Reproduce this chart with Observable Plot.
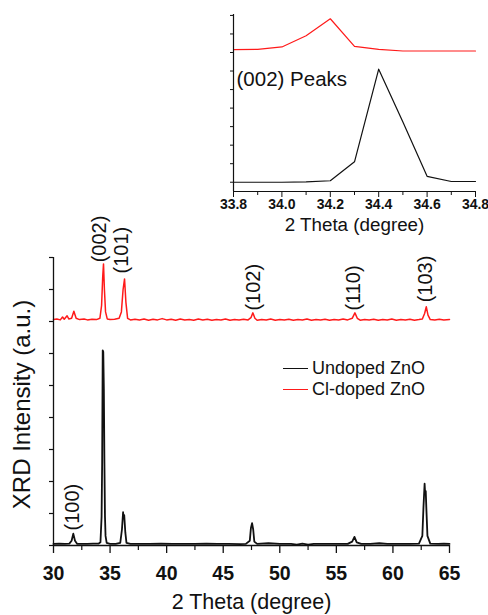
<!DOCTYPE html>
<html><head><meta charset="utf-8">
<script src="https://cdn.jsdelivr.net/npm/d3@7"></script>
<script src="https://cdn.jsdelivr.net/npm/@observablehq/plot@0.6"></script>
<style>
body{margin:0;background:#fff;font-family:"Liberation Sans",Arial,sans-serif;}
#wrap{position:relative;width:488px;height:615px;overflow:hidden;background:#fff;}
#wrap svg{position:absolute;left:0;top:0;}
.leg{position:absolute;left:283px;height:20px;font-size:18px;line-height:20px;color:#111;display:flex;align-items:center;white-space:nowrap;}
.leg .sw{display:inline-block;width:25px;height:0;border-top:1.5px solid;margin-right:4px;}
</style></head><body><div id="wrap"></div>
<script>
const seriesNames = ["Undoped ZnO", "Cl-doped ZnO"];
const seriesColors = ["#111111", "#ff1a1a"];

const undopedX = [30.0,30.5,31.0,31.4,31.6,31.75,31.9,32.1,32.5,33.0,33.5,34.0,34.15,34.25,34.3,34.35,34.4,34.45,34.5,34.55,34.6,34.7,35.0,35.5,35.9,36.05,36.15,36.2,36.25,36.35,36.45,36.8,37.5,38.5,39.5,40.5,41.5,42.5,43.5,44.5,45.5,46.5,47.0,47.35,47.45,47.55,47.65,47.75,48.0,49.0,50.0,51.0,51.5,52.0,52.5,53.0,54.0,55.0,56.0,56.4,56.6,56.8,57.2,58.0,58.8,59.5,60.5,61.5,62.3,62.6,62.7,62.8,62.85,62.9,62.95,63.05,63.3,64.0,64.5,65.0];
const undopedY = [0.05,0.06,0.05,0.06,0.15,0.37,0.15,0.05,0.05,0.05,0.06,0.06,0.1,0.9,2.6,6.1,6.05,4.9,2.6,0.9,0.3,0.08,0.05,0.05,0.08,0.5,1.04,0.85,0.95,0.4,0.08,0.05,0.05,0.05,0.06,0.05,0.05,0.05,0.06,0.05,0.05,0.04,0.05,0.15,0.55,0.7,0.5,0.12,0.05,0.07,0.05,0.05,0.03,0.06,0.03,0.05,0.05,0.05,0.05,0.12,0.27,0.1,0.05,0.05,0.07,0.05,0.05,0.05,0.06,0.3,1.2,1.93,1.6,1.7,1.2,0.3,0.06,0.05,0.06,0.05];

const dopedX = [30.0,30.3,30.6,30.8,30.95,31.2,31.35,31.6,31.8,32.0,32.3,32.7,33.0,33.4,33.8,34.1,34.25,34.35,34.42,34.5,34.6,34.75,35.0,35.4,35.8,36.0,36.15,36.28,36.4,36.55,36.8,37.2,37.6,38.0,38.4,38.8,39.2,39.6,40.0,40.4,40.8,41.2,41.6,42.0,42.4,42.8,43.2,43.6,44.0,44.4,44.8,45.2,45.6,46.0,46.4,46.8,47.2,47.45,47.62,47.8,48.0,48.4,48.8,49.2,49.6,50.0,50.4,50.8,51.2,51.6,52.0,52.4,52.8,53.2,53.6,54.0,54.4,54.8,55.2,55.6,56.0,56.4,56.64,56.85,57.1,57.5,57.9,58.3,58.7,59.1,59.5,59.9,60.3,60.7,61.1,61.5,61.9,62.3,62.6,62.8,62.95,63.1,63.3,63.7,64.1,64.5,65.0];
const dopedY = [7.06,7.08,7.05,7.14,7.07,7.18,7.08,7.1,7.32,7.1,7.06,7.08,7.05,7.07,7.06,7.1,7.5,8.4,8.8,8.0,7.3,7.08,7.06,7.07,7.1,7.3,8.0,8.33,7.6,7.1,7.05,7.07,7.05,7.08,7.04,7.07,7.05,7.09,7.05,7.07,7.04,7.08,7.05,7.06,7.04,7.08,7.05,7.07,7.04,7.06,7.05,7.08,7.04,7.06,7.05,7.07,7.05,7.12,7.27,7.1,7.04,7.06,7.05,7.08,7.04,7.06,7.05,7.07,7.04,7.06,7.05,7.08,7.04,7.06,7.05,7.07,7.04,7.06,7.05,7.08,7.05,7.1,7.27,7.1,7.04,7.06,7.05,7.07,7.04,7.06,7.05,7.08,7.04,7.06,7.05,7.07,7.04,7.06,7.08,7.25,7.46,7.2,7.06,7.05,7.07,7.05,7.06];

const peakLabels = ["(100)", "(002)", "(101)", "(102)", "(110)", "(103)"];
const peakX = [31.68, 34.1, 36.0, 47.68, 56.52, 62.89];
const peakY = [0.47, 8.85, 8.5, 7.34, 7.34, 7.6];

const xMajorTicks = [30, 35, 40, 45, 50, 55, 60, 65];
const xMinorTicks = [32.5, 37.5, 42.5, 47.5, 52.5, 57.5, 62.5];
const yTicks = [0, 1, 2, 3, 4, 5, 6, 7, 8, 9];

const insetX = [33.8, 33.9, 34.0, 34.1, 34.2, 34.3, 34.4, 34.5, 34.6, 34.7, 34.8];
const insetUndopedY = [0.0, 0.0, 0.0, 0.02, 0.08, 1.1, 6.1, 3.25, 0.32, 0.04, 0.04];
const insetDopedY = [7.15, 7.17, 7.3, 7.9, 8.82, 7.33, 7.17, 7.08, 7.08, 7.08, 7.08];
const insetMajorTicks = [33.8, 34.0, 34.2, 34.4, 34.6, 34.8];
const insetMinorTicks = [33.9, 34.1, 34.3, 34.5, 34.7];
const insetYTicks = [0, 1, 2, 3, 4, 5, 6, 7, 8, 9];

const FONT = "Liberation Sans, Arial, sans-serif";
const undoped = undopedX.map((x, i) => ({x, y: undopedY[i]}));
const doped = dopedX.map((x, i) => ({x, y: dopedY[i]}));
const peaks = peakLabels.map((t, i) => ({t, x: peakX[i], y: peakY[i]}));
const insetU = insetX.map((x, i) => ({x, y: insetUndopedY[i]}));
const insetD = insetX.map((x, i) => ({x, y: insetDopedY[i]}));
const blank = () => "";

const main = Plot.plot({
  width: 488, height: 615,
  marginLeft: 53, marginRight: 39, marginTop: 257, marginBottom: 70,
  style: {fontFamily: FONT, background: "transparent", overflow: "visible", color: "#111"},
  x: {domain: [30, 65]},
  y: {domain: [0, 9]},
  marks: [
    Plot.line(doped, {x: "x", y: "y", stroke: seriesColors[1], strokeWidth: 1.5}),
    Plot.line(undoped, {x: "x", y: "y", stroke: seriesColors[0], strokeWidth: 1.8}),
    Plot.ruleX([30], {stroke: "#111", strokeWidth: 1.3}),
    Plot.ruleY([0], {stroke: "#111", strokeWidth: 1.3}),
    Plot.axisX({ticks: xMajorTicks, tickSize: 8, tickPadding: 13, fontSize: 19.5, fontWeight: "bold", label: null, tickFormat: d => String(d), strokeWidth: 1.3}),
    Plot.axisX({ticks: xMinorTicks, tickSize: 5, tickFormat: blank, label: null, strokeWidth: 1.2}),
    Plot.axisY({ticks: yTicks, tickSize: 4, tickFormat: blank, label: null, strokeWidth: 1.2}),
    Plot.text(peaks, {x: "x", y: "y", text: "t", rotate: -90, textAnchor: "start", lineAnchor: "middle", fontSize: 20, fill: "#111"}),
    Plot.text(["2 Theta (degree)"], {frameAnchor: "bottom", lineAnchor: "middle", textAnchor: "middle", dy: 56.5, fontSize: 21.5, fill: "#111"}),
    Plot.text(["XRD Intensity (a.u.)"], {frameAnchor: "left", rotate: -90, textAnchor: "middle", lineAnchor: "middle", dx: -31, dy: 3, fontSize: 24, fill: "#111"})
  ]
});

const inset = Plot.plot({
  width: 488, height: 240,
  marginLeft: 233, marginRight: 13, marginTop: 14, marginBottom: 49,
  style: {fontFamily: FONT, background: "transparent", overflow: "visible", color: "#111"},
  x: {domain: [33.8, 34.8]},
  y: {domain: [-0.5, 9.05]},
  marks: [
    Plot.line(insetD, {x: "x", y: "y", stroke: seriesColors[1], strokeWidth: 1.2}),
    Plot.line(insetU, {x: "x", y: "y", stroke: seriesColors[0], strokeWidth: 1.2}),
    Plot.ruleX([33.8], {stroke: "#111", strokeWidth: 1.2}),
    Plot.ruleY([-0.5], {stroke: "#111", strokeWidth: 1.2}),
    Plot.axisX({ticks: insetMajorTicks, tickSize: 6, tickPadding: 2, fontSize: 14, fontWeight: "bold", tickFormat: d3.format(".1f"), label: null}),
    Plot.axisX({ticks: insetMinorTicks, tickSize: 4, tickFormat: blank, label: null}),
    Plot.axisY({ticks: insetYTicks, tickSize: 3, tickFormat: blank, label: null}),
    Plot.text(["2 Theta (degree)"], {frameAnchor: "bottom", lineAnchor: "middle", textAnchor: "middle", dy: 33.5, fontSize: 18.8, fill: "#111"}),
    Plot.text(["(002) Peaks"], {frameAnchor: "top-left", lineAnchor: "middle", textAnchor: "start", dx: 3, dy: 65, fontSize: 20.5, fill: "#111"})
  ]
});

const wrap = document.getElementById("wrap");
wrap.appendChild(main);
wrap.appendChild(inset);

const legendTops = [358, 379];
seriesNames.forEach((name, i) => {
  const row = document.createElement("div");
  row.className = "leg";
  row.style.top = legendTops[i] + "px";
  const sw = document.createElement("span");
  sw.className = "sw";
  sw.style.borderTopColor = seriesColors[i];
  row.appendChild(sw);
  row.appendChild(document.createTextNode(name));
  wrap.appendChild(row);
});
</script></body></html>
